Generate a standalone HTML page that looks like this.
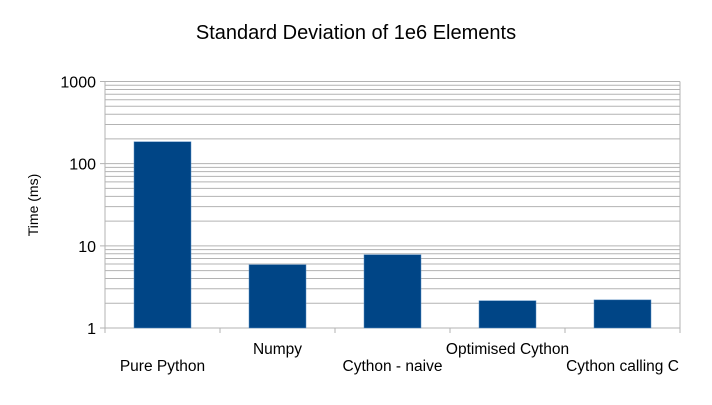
<!DOCTYPE html>
<html><head><meta charset="utf-8"><style>
body{margin:0;background:#fff;font-family:"Liberation Sans",sans-serif;}
svg text{font-family:"Liberation Sans",sans-serif;}
</style></head><body>
<svg id="chart" width="712" height="400">
<rect width="712" height="400" fill="#fff"/>
<text x="356" y="39" font-size="20" text-anchor="middle">Standard Deviation of 1e6 Elements</text>
<text transform="translate(38,205) rotate(-90)" font-size="14" text-anchor="middle">Time (ms)</text>
<g id="grid"></g><g id="bars"></g><g id="axes"></g>
</svg>
<script>
const categories=["Pure Python","Numpy","Cython - naive","Optimised Cython","Cython calling C"];
const values=[185,5.9,7.8,2.15,2.2];
const yTicks=[1,10,100,1000];
const yTickLabels=["1","10","100","1000"];
const L=105,R=680,T=81.5,B=328;
const ns="http://www.w3.org/2000/svg";
function y(v){return B-(Math.log10(v)-0)/3*(B-T);}
const bw=(R-L)/categories.length;
function x(i){return L+bw*i;}
function mk(t,a,p){const e=document.createElementNS(ns,t);for(const k in a)e.setAttribute(k,a[k]);document.getElementById(p).appendChild(e);return e;}
for(let d=0;d<3;d++){for(let m=2;m<=9;m++){const v=Math.pow(10,d)*m;
const g=mk('line',{x1:L,x2:R,y1:y(v),y2:y(v),stroke:'#b3b3b3','stroke-width':1},'grid');

}}
yTicks.forEach((v,i)=>{
const g=mk('line',{x1:L-5,x2:R,y1:y(v),y2:y(v),stroke:'#b3b3b3','stroke-width':1},'grid');


const t=mk('text',{x:L-9,y:y(v)+6,'font-size':16,'text-anchor':'end'},'axes');t.textContent=yTickLabels[i];

});
mk('line',{x1:L,x2:L,y1:T,y2:B,stroke:'#b3b3b3'},'axes');
mk('line',{x1:R,x2:R,y1:T,y2:B,stroke:'#b3b3b3'},'axes');
for(let i=0;i<=categories.length;i++){mk('line',{x1:x(i),x2:x(i),y1:B,y2:B+5,stroke:'#b3b3b3'},'axes');}
categories.forEach((c,i)=>{
const cx=x(i)+bw/2,top=y(values[i]);
const b=mk('rect',{x:cx-28.5,y:top,width:57,height:B-top,fill:'#004586',stroke:'#5b8fc4','stroke-width':0.5},'bars');


const t=mk('text',{x:cx,y:i%2?354:371,'font-size':15.5,'text-anchor':'middle'},'axes');t.textContent=c;

});
</script>
</body></html>
